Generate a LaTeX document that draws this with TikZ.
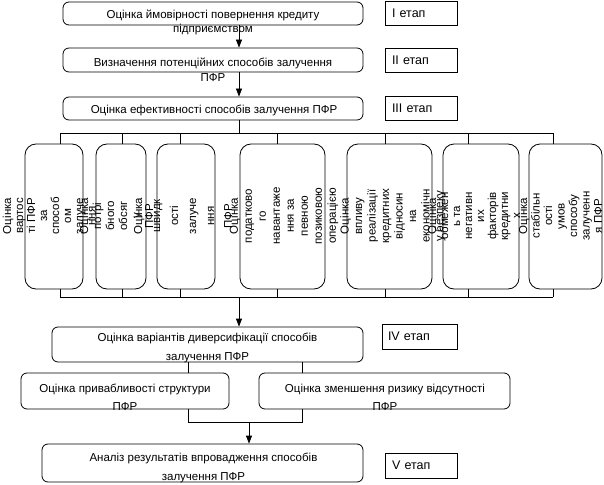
\documentclass[tikz,border=0pt]{standalone}
\usepackage{fontspec}
\setmainfont{Liberation Sans}
\usetikzlibrary{arrows.meta}
\begin{document}
\begin{tikzpicture}[x=1pt,y=-1pt, line width=0.8pt,
 hbox/.style={draw, rounded corners=6pt, inner sep=0pt},
 vbox/.style={draw, rounded corners=11pt, inner sep=0pt, minimum height=145pt},
 stagebox/.style={draw, minimum height=24pt, text width=58pt, inner xsep=7pt, inner ysep=0pt, align=left, font=\fontsize{12.5}{14}\selectfont},
 txt/.style={inner sep=0pt, align=center},
 vtxt/.style={inner sep=0pt, align=center, rotate=90},
 arr/.style={-{Triangle[length=8pt,width=6pt]}},
]
\useasboundingbox (0,0) rectangle (604,484);

% main horizontal boxes
\node[hbox, minimum width=300pt, minimum height=23pt] (b1) at (213,13.5) {};
\node[hbox, minimum width=300pt, minimum height=24pt] (b2) at (213,60) {};
\node[hbox, minimum width=300pt, minimum height=23pt] (b3) at (213,108.5) {};
\node[hbox, minimum width=311pt, minimum height=35pt] (b4) at (207.5,344.5) {};
\node[hbox, minimum width=208pt, minimum height=36pt] (b4a) at (125,391) {};
\node[hbox, minimum width=251pt, minimum height=36pt] (b4b) at (384.5,391) {};
\node[hbox, minimum width=321pt, minimum height=38pt] (b5) at (202.5,463) {};

% texts of horizontal boxes
\node[txt, font=\fontsize{11.5}{14.5}\selectfont] (t1) at (213,22.5) {Оцінка ймовірності повернення кредиту\\підприємством};
\node[txt, font=\fontsize{11.5}{15}\selectfont] (t2) at (213,69.5) {Визначення потенційних способів залучення\\ПФР};
\node[txt, font=\fontsize{11.5}{15}\selectfont] (t3) at (214,110.5) {Оцінка ефективності способів залучення ПФР};
\node[txt, font=\fontsize{11.5}{19}\selectfont] (t4) at (207.5,347.5) {Оцінка варіантів диверсифікації способів\\залучення ПФР};
\node[txt, font=\fontsize{11.5}{18}\selectfont] (t4a) at (125,397) {Оцінка привабливості структури\\ПФР};
\node[txt, font=\fontsize{11.5}{18}\selectfont] (t4b) at (385,397) {Оцінка зменшення ризику відсутності\\ПФР};
\node[txt, font=\fontsize{11.5}{19}\selectfont] (t5) at (203.5,467.5) {Аналіз результатів впровадження способів\\залучення ПФР};

% stage boxes
\node[stagebox] (s1) at (421,13) {І етап};
\node[stagebox] (s2) at (421,60) {ІІ етап};
\node[stagebox] (s3) at (421,108.5) {ІІІ етап};
\node[stagebox, minimum height=25pt, text width=63pt, inner xsep=6pt] (s4) at (419.5,336.5) {IV етап};
\node[stagebox, minimum height=25pt] (s5) at (421,465.5) {V етап};

% vertical boxes
\node[vbox, minimum width=58pt] (vA) at (54,216.5) {};
\node[vbox, minimum width=50pt] (vB) at (121,216.5) {};
\node[vbox, minimum width=58pt] (vC) at (186,216.5) {};
\node[vbox, minimum width=85pt] (vD) at (282.5,216.5) {};
\node[vbox, minimum width=85pt] (vE) at (389.5,216.5) {};
\node[vbox, minimum width=76pt] (vF) at (481,216.5) {};
\node[vbox, minimum width=73pt] (vG) at (565.5,216.5) {};

% rotated texts
\node[vtxt, font=\fontsize{11.5}{12}\selectfont] (tA) at (49,216) {Оцінка\\вартос\\ті ПФР\\за\\способ\\ом\\залуче\\ння};
\node[vtxt, font=\fontsize{11.5}{13}\selectfont] (tB) at (116.5,216) {Оцінка\\потрі\\бного\\обсяг\\у\\ПФР};
\node[vtxt, font=\fontsize{11.5}{18}\selectfont] (tC) at (183,216) {Оцінка\\швидк\\ості\\залуче\\ння\\ПФР};
\node[vtxt, font=\fontsize{11.5}{14}\selectfont] (tD) at (284,216) {Оцінка\\податково\\го\\навантаже\\ння за\\певною\\позиковою\\операцією};
\node[vtxt, font=\fontsize{11.5}{13.5}\selectfont] (tE) at (393,216) {Оцінка\\впливу\\реалізації\\кредитних\\відносин\\на\\економічн\\у безпеку};
\node[vtxt, font=\fontsize{11.5}{12}\selectfont] (tF) at (474,216) {Оцінка\\обмежен\\ь та\\негативн\\их\\факторів\\кредитни\\х};
\node[vtxt, font=\fontsize{11.5}{12.5}\selectfont] (tG) at (560.5,216) {Оцінка\\стабільн\\ості\\умов\\способу\\залученн\\я ПФР};

% connector coordinates
\coordinate (xm) at (239,0);
\coordinate (busT) at (239,133);
\coordinate (busB) at (239,297);
\coordinate (dA) at (60,133);
\coordinate (dB) at (122,133);
\coordinate (dC) at (180,133);
\coordinate (dD) at (277,133);
\coordinate (dE) at (385,133);
\coordinate (dF) at (468,133);
\coordinate (dG) at (553,133);
\coordinate (l1) at (188,0);
\coordinate (l2) at (302,0);
\coordinate (jn) at (249,422);

% connectors
\draw[arr] (b1.south -| xm) -- (b2.north -| xm);
\draw[arr] (b2.south -| xm) -- (b3.north -| xm);
\draw (b3.south -| xm) -- (busT);
\draw (dA) -- (dG);
\draw (dA |- busB) -- (dG |- busB);
\foreach \v/\d in {vA/dA, vB/dB, vC/dC, vD/dD, vE/dE, vF/dF, vG/dG} {
  \draw (\d) -- (\v.north -| \d);
  \draw (\v.south -| \d) -- (\d |- busB);
}
\draw[arr] (busB) -- (b4.north -| busB);
\draw (b4.south -| l1) -- (b4a.north -| l1);
\draw (b4.south -| l2) -- (b4b.north -| l2);
\draw (b4a.south -| l1) -- (l1 |- jn) -- (l2 |- jn) -- (b4b.south -| l2);
\draw[arr] (jn) -- (b5.north -| jn);
\end{tikzpicture}
\end{document}
